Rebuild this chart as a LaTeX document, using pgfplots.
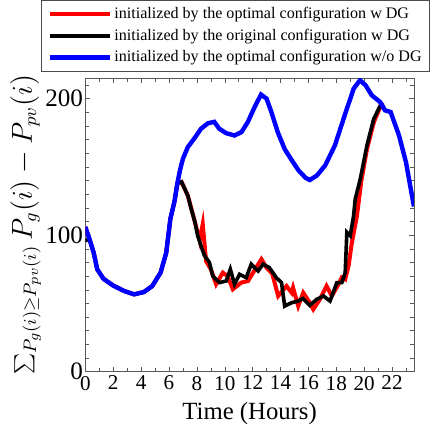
\documentclass[border=0pt]{standalone}
\usepackage{pgfplots}
\pgfplotsset{compat=1.18}
\usepackage{fontspec}
\setmainfont{Liberation Serif}

\begin{document}
\begin{tikzpicture}
\begin{axis}[
  scale only axis, width=163.5pt, height=146pt,
  xmin=0, xmax=23.57, ymin=0, ymax=215,
  xtick={0,2,...,22}, minor xtick={1,3,...,23},
  ytick={0,100,200}, minor ytick={10,20,...,210},
  major tick length=2.5pt, minor tick length=2pt,
  tick pos=both, tick align=inside,
  axis line style={black!65}, tick style={black!65},
  xticklabel={\fontsize{10.5}{12}\selectfont\pgfmathprintnumber[assume math mode=true]{\tick}},
  yticklabel={\fontsize{12.5}{14}\selectfont\pgfmathprintnumber[assume math mode=true]{\tick}},
  xticklabel style={inner sep=1pt, yshift=-1pt},
  yticklabel style={inner sep=1pt},
  xlabel={Time (Hours)},
  xlabel style={font=\fontsize{12.3}{14}\selectfont, inner sep=1pt, yshift=-4pt},
  ylabel={$\sum_{P_g(i)\geq P_{pv}(i)} P_g(i) - P_{pv}(i)$},
  ylabel style={font=\fontsize{13.3}{15}\selectfont, inner sep=1pt},
  legend cell align=left,
  legend style={at={(rel axis cs:1,1)}, anchor=south east, xshift=8pt, yshift=3pt,
    draw=black!70, font=\fontsize{8}{9.6}\selectfont,
    nodes={inner sep=1pt, text height=6pt, text depth=2pt}, row sep=0.75pt},
  legend image code/.code={\draw[#1] (0cm,0cm) -- (1.05cm,0cm);},
]
\addplot[red, line width=2pt] coordinates {
(0,106) (0.3,97) (0.6,87) (0.85,75) (1.3,68) (2.0,63) (2.8,59) (3.5,56.6) (4.2,58.3)
(4.8,62.7) (5.4,72.6) (5.8,87) (6.1,112) (6.4,125) (6.6,138) (6.9,139) (7.35,129)
(7.85,110) (8.2,96) (8.42,108) (8.66,81) (9.0,75) (9.38,64) (9.86,72.5) (10.2,70)
(10.58,60.3) (11.18,65.2) (11.67,66.4) (12.03,72.5) (12.63,82.4) (12.99,76.2) (13.4,72)
(13.83,55.4) (14.43,62.7) (14.8,57.8) (14.9,61.5) (15.27,48) (15.63,57.8) (16.1,50.5)
(16.35,45.6) (16.83,53) (17.3,62.7) (17.68,55.4) (18.16,64) (18.4,69) (18.64,67.6)
(18.88,77.4) (19.12,94.6) (19.48,114) (19.8,140) (20.2,163) (20.7,183) (21.2,195) (21.35,197)
};
\addlegendentry{initialized by the optimal configuration w DG}
\addplot[black, line width=1.8pt] coordinates {
(0,96) (0.3,97) (0.6,87) (0.85,75) (1.3,68) (2.0,63) (2.8,59) (3.5,56.6) (4.2,58.3)
(4.8,62.7) (5.4,72.6) (5.8,87) (6.1,112) (6.4,125) (6.6,138) (6.9,139) (7.35,129)
(7.6,119) (7.85,110) (8.06,99.5) (8.3,92) (8.55,84.8) (8.9,80) (9.14,70) (9.62,65.2)
(10.1,66.4) (10.4,75) (10.7,64) (11.06,71.3) (11.54,68.8) (11.9,78.7) (12.39,73.7)
(12.75,78.7) (13.2,76.2) (13.7,68.8) (14.07,65.2) (14.3,48) (14.8,50.5) (15.27,51.7)
(15.6,53.6) (16.1,48.5) (16.6,53) (17.08,55.4) (17.55,51.7) (18.04,65.2) (18.4,65.2)
(18.64,72.5) (18.76,102) (19.0,99.5) (19.24,114) (19.36,126.5) (19.72,141) (20.2,165.7)
(20.68,185) (21.16,195) (21.3,197)
};
\addlegendentry{initialized by the original configuration w DG}
\addplot[blue, line width=2.2pt] coordinates {
(0,106) (0.3,97) (0.6,87) (0.85,75) (1.3,68) (2.0,63) (2.8,59) (3.5,56.6) (4.2,58.3)
(4.8,62.7) (5.4,72.6) (5.8,87) (6.1,112) (6.4,125) (6.6,138) (6.8,148) (7.0,156)
(7.35,164.5) (7.8,170.6) (8.3,178) (8.8,182) (9.25,183) (9.6,178) (10.1,174.7) (10.7,173)
(11.2,175.5) (11.65,182.8) (12.15,194) (12.6,203) (13.0,200) (13.35,190) (13.8,175.5)
(14.3,163) (14.8,155) (15.3,147.3) (15.8,142) (16.1,140.4) (16.6,143.6) (17.2,151)
(17.9,165.7) (18.6,187.7) (19.25,207.4) (19.7,213.5) (20.1,209.8) (20.55,202.4)
(21.15,197.5) (21.5,191.4) (21.9,190.2) (22.5,173) (23.0,153.4) (23.57,121)
};
\addlegendentry{initialized by the optimal configuration w/o DG}
\end{axis}
\path ([xshift=-4pt]current axis.outer west);
\end{tikzpicture}
\end{document}
